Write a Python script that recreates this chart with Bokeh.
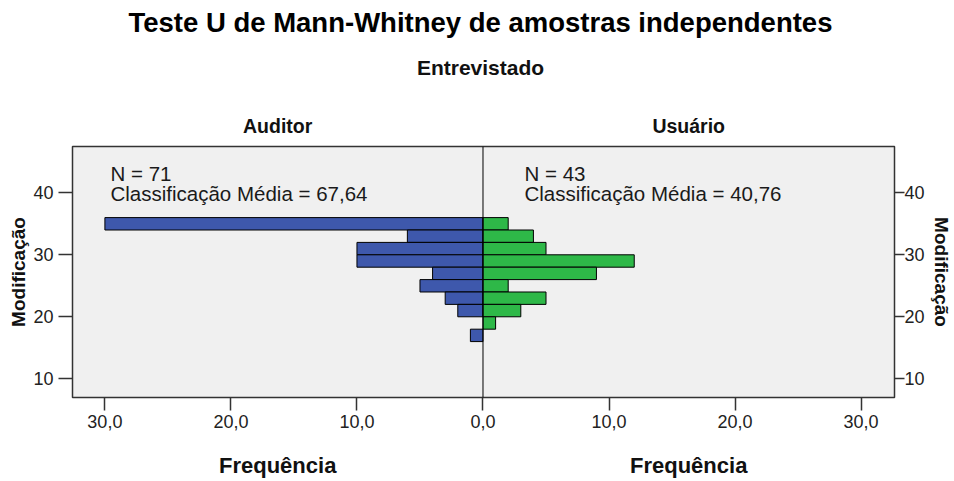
from math import pi
from bokeh.plotting import figure
from bokeh.models import Range1d, FixedTicker, LinearAxis, Label, Span
from bokeh.embed import file_html
from bokeh.resources import INLINE

# ---- data ----
title = "Teste U de Mann-Whitney de amostras independentes"
panel_title = "Entrevistado"
groups = ["Auditor", "Usuário"]
y_label = "Modificação"
x_label = "Frequência"
bin_centers = [35, 33, 31, 29, 27, 25, 23, 21, 19, 17]
bin_width = 2
auditor_freq = [30, 6, 10, 10, 4, 5, 3, 2, 0, 1]
usuario_freq = [2, 4, 5, 12, 9, 2, 5, 3, 1, 0]
group_n = [71, 43]
mean_rank = ["67,64", "40,76"]
x_ticks = [-30, -20, -10, 0, 10, 20, 30]
x_tick_labels = ["30,0", "20,0", "10,0", "0,0", "10,0", "20,0", "30,0"]
y_ticks = [10, 20, 30, 40]

FONT = "Liberation Sans"
BLUE = "#3E58AC"
GREEN = "#2EB848"
X_MIN, X_MAX = -32.57, 32.65
Y_MIN, Y_MAX = 6.98, 47.47
TITLE_X = -0.2   # horizontal centre of the titles, in x data units

p = figure(width=954, height=481,
           x_range=Range1d(X_MIN, X_MAX), y_range=Range1d(Y_MIN, Y_MAX),
           output_backend="svg", toolbar_location=None, title_location=None,
           min_border_left=72, min_border_right=57,
           min_border_top=146, min_border_bottom=84)
p.background_fill_color = "#F0F0F0"
p.border_fill_color = "white"
p.outline_line_color = "#333333"
p.outline_line_width = 1.5
p.grid.visible = False

# bars
a_y = [y for y, v in zip(bin_centers, auditor_freq) if v > 0]
a_v = [-v for v in auditor_freq if v > 0]
u_y = [y for y, v in zip(bin_centers, usuario_freq) if v > 0]
u_v = [v for v in usuario_freq if v > 0]
p.hbar(y=a_y, left=a_v, right=0, height=bin_width, fill_color=BLUE,
       line_color="black", line_width=1)
p.hbar(y=u_y, left=0, right=u_v, height=bin_width, fill_color=GREEN,
       line_color="black", line_width=1)

p.add_layout(Span(location=0, dimension="height", line_color="black", line_width=1))


def style_axis(ax, tick_out, standoff, size="17px"):
    ax.axis_line_color = None
    ax.minor_tick_line_color = None
    ax.major_tick_out = tick_out
    ax.major_tick_in = 0
    ax.major_tick_line_color = "#333333" if tick_out else None
    ax.major_tick_line_width = 1.5
    ax.major_label_standoff = standoff
    ax.major_label_text_font = FONT
    ax.major_label_text_font_size = size
    ax.major_label_text_color = "#222222"


def text_axis(positions, labels, standoff, size, color="#111111"):
    ax = LinearAxis(ticker=FixedTicker(ticks=positions),
                    major_label_overrides=dict(zip(positions, labels)))
    style_axis(ax, 0, standoff, size)
    ax.major_label_text_font_style = "bold"
    ax.major_label_text_color = color
    return ax


# bottom axis
xa = p.xaxis[0]
xa.ticker = FixedTicker(ticks=x_ticks)
xa.major_label_overrides = dict(zip(x_ticks, x_tick_labels))
style_axis(xa, 13, 4, "18px")

# left axis
ya = p.yaxis[0]
ya.ticker = FixedTicker(ticks=y_ticks)
style_axis(ya, 14, 5, "18px")
ya.axis_label = y_label
ya.axis_label_standoff = 1
ya.axis_label_text_font = FONT
ya.axis_label_text_font_size = "19px"
ya.axis_label_text_font_style = "bold"
ya.axis_label_text_color = "#111111"

# right axis
ra = LinearAxis(ticker=FixedTicker(ticks=y_ticks))
style_axis(ra, 10, 0, "18px")
ra.axis_label = y_label
ra.axis_label_standoff = 3
ra.axis_label_text_font = FONT
ra.axis_label_text_font_size = "19px"
ra.axis_label_text_font_style = "bold"
ra.axis_label_text_color = "#111111"
p.add_layout(ra, "right")

# centres of each half of the frame
half_centres = [round(X_MIN / 2, 2), round(X_MAX / 2, 2)]

# above the frame, from the frame outwards: group names, panel title, main title
p.add_layout(text_axis(half_centres, groups, 10, "19.5px"), "above")
p.add_layout(text_axis([TITLE_X], [panel_title], 33, "21px"), "above")
p.add_layout(text_axis([TITLE_X], [title], 15, "27.5px", color="black"), "above")

# frequency titles below each half
p.add_layout(text_axis(half_centres, [x_label, x_label], 22, "22px"), "below")

# annotations inside the frame (screen units from frame left / bottom)
def note(text, sx, sy):
    p.add_layout(Label(x=sx, y=sy, x_units="screen", y_units="screen",
                       text=text, text_font=FONT, text_font_size="20.5px",
                       text_align="left", text_baseline="alphabetic",
                       text_color="#1A1A1A"))

note("N = %d" % group_n[0], 38, 224.5)
note("Classificação Média = %s" % mean_rank[0], 38, 204.5)
note("N = %d" % group_n[1], 452, 224.5)
note("Classificação Média = %s" % mean_rank[1], 452, 204.5)

open("out.html", "w").write(file_html(p, INLINE))
